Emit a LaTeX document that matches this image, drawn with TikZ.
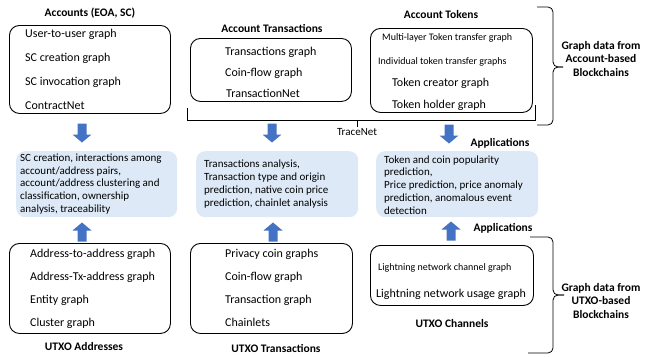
\documentclass[tikz,border=0pt]{standalone}
\usepackage{fontspec}
\setmainfont{Carlito}
\definecolor{arrowblue}{RGB}{68,114,196}
\definecolor{appfill}{RGB}{221,233,246}
\begin{document}
\begin{tikzpicture}[x=1pt,y=-1pt,
  gbox/.style={draw=black, line width=0.9pt, rounded corners=10pt, anchor=north west, inner sep=0pt},
  appbox/.style={fill=appfill, rounded corners=9pt, anchor=north west, inner sep=0pt},
  item/.style={anchor=west, inner sep=0pt, font=\fontsize{12}{14}\selectfont, text height=8.5pt, text depth=2.5pt},
  smallitem/.style={anchor=west, inner sep=0pt, font=\fontsize{10}{12}\selectfont, text height=7pt, text depth=2pt},
  ttl/.style={inner sep=0pt, font=\bfseries\fontsize{11.5}{13}\selectfont},
  apptext/.style={anchor=west, align=left, inner sep=0pt, font=\fontsize{11}{12.8}\selectfont},
  bracetext/.style={align=center, inner sep=0pt, font=\bfseries\fontsize{11.5}{13.5}\selectfont},
  barrow/.pic={\fill[arrowblue] (-4.5,-9.5) -- (4.5,-9.5) -- (4.5,1.5) -- (9.5,1.5) -- (0,9.5) -- (-9.5,1.5) -- (-4.5,1.5) -- cycle;}
]
\useasboundingbox (0,0) rectangle (647,356);

% ---------- top row: account-based ----------
\node[ttl] (accT) at (90,13) {Accounts (EOA, SC)};
\node[gbox, minimum width=161pt, minimum height=88pt] (acc) at (9,25) {};
\node[item] (acc1) at (25,34) {User-to-user graph};
\node[item] (acc2) at (25,58) {SC creation graph};
\node[item] (acc3) at (25,82) {SC invocation graph};
\node[item] (acc4) at (25,106) {ContractNet};

\node[ttl] (atxT) at (272,28) {Account Transactions};
\node[gbox, minimum width=161pt, minimum height=63pt] (atx) at (190,38) {};
\node[item] (atx1) at (225,52) {Transactions graph};
\node[item] (atx2) at (225,73) {Coin-flow graph};
\node[item] (atx3) at (226,94) {TransactionNet};

\node[ttl] (atkT) at (441,15) {Account Tokens};
\node[gbox, minimum width=162pt, minimum height=84pt] (atk) at (370,28) {};
\node[smallitem] (atk1) at (382,38) {Multi-layer Token transfer graph};
\node[smallitem] (atk2) at (378,62) {Individual token transfer graphs};
\node[item] (atk3) at (392,83) {Token creator graph};
\node[item] (atk4) at (392,105) {Token holder graph};

% TraceNet bracket
\draw[line width=0.8pt] (187,108) -- (187,120) -- (535,120) -- (535,105);
\draw[line width=0.8pt] (357,120) -- (357,127);
\node[inner sep=0pt, font=\fontsize{11}{13}\selectfont] (tn) at (357,132) {TraceNet};

% right brace (account)
\draw[line width=0.8pt, rounded corners=5pt] (537,7) -- (553,7) -- (553,67) -- (563,67);
\draw[line width=0.8pt, rounded corners=5pt] (563,67) -- (553,67) -- (553,125) -- (537,125);
\node[bracetext] (brA) at (601,59) {Graph data from\\Account-based\\Blockchains};

% ---------- arrows down ----------
\pic at (82,133) {barrow};
\pic at (272,133) {barrow};
\pic at (449,134) {barrow};

\node[ttl] (app1) at (500,143) {Applications};

% ---------- application boxes ----------
\node[appbox, minimum width=161pt, minimum height=66pt] (ap1) at (16,151) {};
\node[apptext] (ap1t) at (20,184) {SC creation, interactions among\\account/address pairs,\\account/address clustering and\\classification, ownership\\analysis, traceability};

\node[appbox, minimum width=162pt, minimum height=66pt] (ap2) at (196,151) {};
\node[apptext] (ap2t) at (204,184) {Transactions analysis,\\Transaction type and origin\\prediction, native coin price\\prediction, chainlet analysis};

\node[appbox, minimum width=162pt, minimum height=66pt] (ap3) at (376,151) {};
\node[apptext] (ap3t) at (384,185) {Token and coin popularity\\prediction,\\Price prediction, price anomaly\\prediction, anomalous event\\detection};

% ---------- arrows up ----------
\pic[rotate=180] at (82,232) {barrow};
\pic[rotate=180] at (273,232) {barrow};
\pic[rotate=180] at (451,231) {barrow};

\node[ttl] (app2) at (503,228) {Applications};

% ---------- bottom row: UTXO ----------
\node[gbox, minimum width=161pt, minimum height=90pt] (uad) at (9,243) {};
\node[item] (uad1) at (30,254) {Address-to-address graph};
\node[item] (uad2) at (30,277) {Address-Tx-address graph};
\node[item] (uad3) at (30,300) {Entity graph};
\node[item] (uad4) at (30,323) {Cluster graph};
\node[ttl] (uadT) at (84,347) {UTXO Addresses};

\node[gbox, minimum width=162pt, minimum height=90pt] (utx) at (190,243) {};
\node[item] (utx1) at (225,254) {Privacy coin graphs};
\node[item] (utx2) at (225,277) {Coin-flow graph};
\node[item] (utx3) at (225,300) {Transaction graph};
\node[item] (utx4) at (225,323) {Chainlets};
\node[ttl] (utxT) at (276,348) {UTXO Transactions};

\node[gbox, minimum width=163pt, minimum height=60pt] (uch) at (370,245) {};
\node[smallitem] (uch1) at (378,268) {Lightning network channel graph};
\node[item] (uch2) at (376,294) {Lightning network usage graph};
\node[ttl] (uchT) at (452,324) {UTXO Channels};

% right brace (UTXO)
\draw[line width=0.8pt, rounded corners=5pt] (530,237) -- (553,237) -- (553,295) -- (564,295);
\draw[line width=0.8pt, rounded corners=5pt] (564,295) -- (553,295) -- (553,353) -- (528,353);
\node[bracetext] (brU) at (601,301) {Graph data from\\UTXO-based\\Blockchains};
\end{tikzpicture}
\end{document}
